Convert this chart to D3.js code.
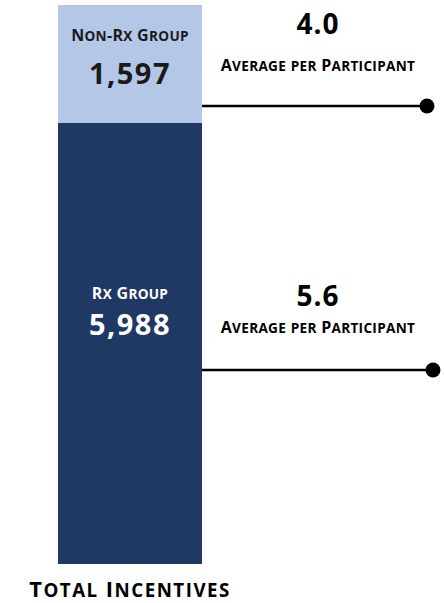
<!DOCTYPE html>
<html>
<head>
<meta charset="utf-8">
<script src="https://cdn.jsdelivr.net/npm/d3@7"></script>
<style>
  html, body { margin: 0; padding: 0; background: #fff; }
  svg { display: block; font-family: "Open Sans", Lato, sans-serif; }
</style>
</head>
<body>
<svg id="chart" width="444" height="603"></svg>
<script>
// Incentive totals, stacked bottom to top
const groups = ["Rx Group", "Non-Rx Group"];
const totals = [5988, 1597];
const averages = [5.6, 4.0];
const averageLabel = "Average per Participant";
const axisTitle = "Total Incentives";
const colors = ["#1f3864", "#b4c7e7"];
const labelColors = ["#ffffff", "#1a1a1a"];

const svg = d3.select("#chart");

const bar = { x0: 58, x1: 202, top: 5, bottom: 564 };
const grand = d3.sum(totals);
const y = d3.scaleLinear().domain([0, grand]).range([bar.bottom, bar.top]);

// Stack the segments
const stackData = [Object.fromEntries(groups.map((g, i) => [g, totals[i]]))];
const series = d3.stack().keys(groups)(stackData);

svg.append("g").selectAll("rect")
  .data(series)
  .join("rect")
  .attr("x", bar.x0)
  .attr("width", bar.x1 - bar.x0)
  .attr("y", d => y(d[0][1]))
  .attr("height", d => y(d[0][0]) - y(d[0][1]))
  .attr("fill", (d, i) => colors[i]);

// Small-caps text: lowercase runs drawn as smaller capitals
function smallCaps(sel, text, size, ratio) {
  const runs = text.match(/[a-z]+|[^a-z]+/g);
  runs.forEach(r => {
    const lower = /^[a-z]+$/.test(r);
    sel.append("tspan")
      .attr("font-size", lower ? size * ratio : size)
      .text(r.toUpperCase());
  });
}

// Layout of labels inside each segment and annotation lines
const layout = [
  { nameY: 299, valueY: 335, lineY: 370, dotX: 433, avgY: 306, avgLabelY: 333 },
  { nameY: 41, valueY: 84, lineY: 106, dotX: 427, avgY: 34, avgLabelY: 71 }
];
const cx = (bar.x0 + bar.x1) / 2;
const annX = 318;

groups.forEach((g, i) => {
  const L = layout[i];
  const t = svg.append("text")
    .attr("x", cx).attr("y", L.nameY)
    .attr("text-anchor", "middle")
    .attr("font-weight", 700)
    .attr("letter-spacing", 0.3)
    .attr("fill", labelColors[i]);
  smallCaps(t, g, 16, 0.85);

  svg.append("text")
    .attr("x", cx).attr("y", L.valueY)
    .attr("text-anchor", "middle")
    .attr("font-weight", 700)
    .attr("font-size", 29)
    .attr("letter-spacing", 1.5)
    .attr("fill", labelColors[i])
    .text(d3.format(",")(totals[i]));

  svg.append("line")
    .attr("x1", bar.x1).attr("x2", L.dotX)
    .attr("y1", L.lineY).attr("y2", L.lineY)
    .attr("stroke", "#000").attr("stroke-width", 2.5);
  svg.append("circle")
    .attr("cx", L.dotX).attr("cy", L.lineY).attr("r", 7.5)
    .attr("fill", "#000");

  svg.append("text")
    .attr("x", annX).attr("y", L.avgY)
    .attr("text-anchor", "middle")
    .attr("font-weight", 700)
    .attr("font-size", 28)
    .attr("letter-spacing", 1)
    .attr("fill", "#000")
    .text(d3.format(".1f")(averages[i]));

  const a = svg.append("text")
    .attr("x", annX).attr("y", L.avgLabelY)
    .attr("text-anchor", "middle")
    .attr("font-weight", 700)
    .attr("letter-spacing", 0.3)
    .attr("fill", "#000");
  smallCaps(a, averageLabel, 16, 0.85);
});

const tt = svg.append("text")
  .attr("x", cx).attr("y", 597)
  .attr("text-anchor", "middle")
  .attr("font-weight", 700)
  .attr("letter-spacing", 1.5)
  .attr("fill", "#000");
smallCaps(tt, axisTitle, 22, 0.85);
</script>
</body>
</html>
